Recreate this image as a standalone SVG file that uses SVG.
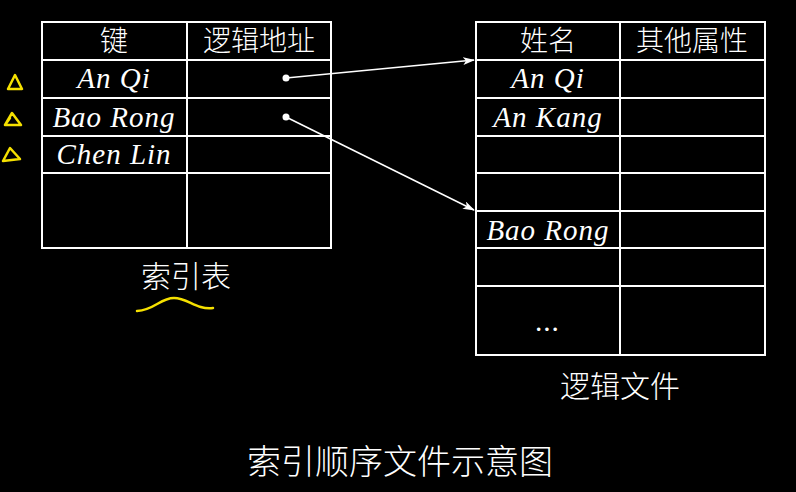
<svg xmlns="http://www.w3.org/2000/svg" width="796" height="492" viewBox="0 0 796 492">
<style>
.g{fill:none;stroke:#fff;stroke-width:2}
.cn{font-family:"Noto Sans CJK SC",sans-serif;fill:#fff;text-anchor:middle;font-weight:300}
.it{font-family:"Liberation Serif",serif;font-style:italic;fill:#fff;text-anchor:middle;font-size:29px;letter-spacing:1px}
.y{fill:none;stroke:#f5e000;stroke-width:2.5;stroke-linecap:round;stroke-linejoin:round}
</style>
<defs><marker id="a" markerWidth="12" markerHeight="8" refX="11" refY="4" orient="auto" markerUnits="userSpaceOnUse"><path d="M0,0 L12,4 L0,8 L3,4 Z" fill="#fff"/></marker></defs>
<rect width="796" height="492" fill="#000"/>
<g id="index-table">
<path class="g" d="M42,22 H331 V248 H42 Z M187,22 V248 M42,60 H331 M42,98 H331 M42,136 H331 M42,173 H331"/>
<text class="cn" x="114" y="51" font-size="28">键</text>
<text class="cn" x="259" y="51" font-size="28">逻辑地址</text>
<text class="it" x="114" y="88">An Qi</text>
<text class="it" x="114" y="127">Bao Rong</text>
<text class="it" x="114" y="164">Chen Lin</text>
<text class="cn" x="186" y="287" font-size="30">索引表</text>
</g>
<g id="logical-file">
<path class="g" d="M476,22 H765 V355 H476 Z M620,22 V355 M476,60 H765 M476,98 H765 M476,136 H765 M476,173 H765 M476,211 H765 M476,248 H765 M476,286 H765"/>
<text class="cn" x="548" y="51" font-size="28">姓名</text>
<text class="cn" x="692" y="51" font-size="28">其他属性</text>
<text class="it" x="548" y="88">An Qi</text>
<text class="it" x="548" y="127">An Kang</text>
<text class="it" x="548" y="240">Bao Rong</text>
<text class="it" x="548" y="331">...</text>
<text class="cn" x="620" y="397" font-size="30">逻辑文件</text>
</g>
<g id="annotations">
<path class="y" d="M8,89 L15,75 L22,89 Z"/>
<path class="y" d="M5,125 L12,113 L21,125 Z M5,125 L10,118"/>
<path class="y" d="M3,161 L10,148 L20,159 Z"/>
<path class="y" d="M137,311 C155,310 160,298 174,298 C188,298 196,310 213,308"/>
</g>
<g id="connectors">
<circle cx="286" cy="78" r="3.5" fill="#fff"/>
<circle cx="286" cy="117" r="3.5" fill="#fff"/>
<line x1="286" y1="78" x2="474" y2="60" stroke="#fff" stroke-width="1.5" marker-end="url(#a)"/>
<line x1="286" y1="117" x2="474" y2="210" stroke="#fff" stroke-width="1.5" marker-end="url(#a)"/>
</g>
<text class="cn" x="400" y="474" font-size="34">索引顺序文件示意图</text>
</svg>
